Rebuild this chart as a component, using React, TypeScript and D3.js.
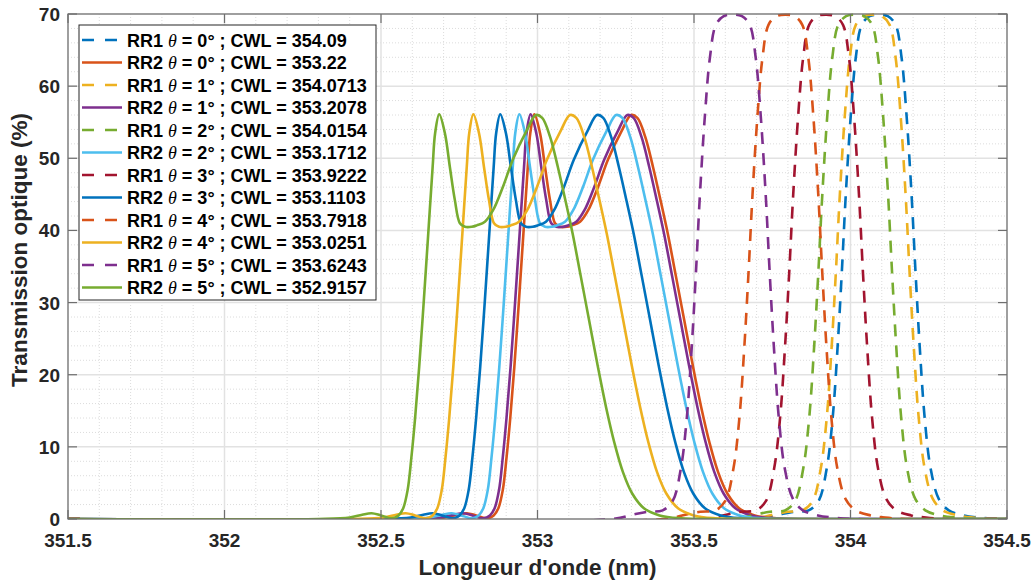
import * as d3 from "d3";

// ---- data ----
const xTicks = [351.5, 352, 352.5, 353, 353.5, 354, 354.5];
const yTicks = [0, 10, 20, 30, 40, 50, 60, 70];

const rrNames = ["RR1", "RR2", "RR1", "RR2", "RR1", "RR2", "RR1", "RR2", "RR1", "RR2", "RR1", "RR2"];
const angles = [0, 0, 1, 1, 2, 2, 3, 3, 4, 4, 5, 5];
const cwlLabels = ["354.09", "353.22", "354.0713", "353.2078", "354.0154", "353.1712", "353.9222", "353.1103", "353.7918", "353.0251", "353.6243", "352.9157"];

// transmission profile of the RR1 (dashed) curves, same shape for every angle
const rr1Trans = [0, 0, 0.6, 1.0, 1.2, 2.5, 7, 14, 24, 34, 45, 56, 64, 68.5, 69.7, 69.9, 69.7, 68.5, 64, 56, 45, 34, 24, 14, 7, 2.8, 1.2, 0.5, 0.2, 0, 0];
// transmission profile of the RR2 (solid) curves
const rr2Trans = [0, 0, 0.2, 0.6, 0.8, 0.5, 0.1, 0.5, 1.5, 4.0, 8.5, 14.0, 21.1, 30.4, 39.6, 48.8, 53.5, 56.1, 53.5, 48.8, 44.2, 41.0, 40.5, 40.5, 40.7, 41.2, 42.8, 46.1, 49.8, 53.8, 56.0, 55.6, 53.0, 48.8, 44.0, 39.6, 33.7, 27.5, 21.3, 15.5, 10.5, 6.5, 3.5, 1.5, 0.5, 0.1, 0, 0];

const wlRR1_0 = [351.5, 353.707, 353.771, 353.818, 353.866, 353.898, 353.924, 353.943, 353.959, 353.972, 353.985, 354.001, 354.017, 354.036, 354.061, 354.090, 354.119, 354.144, 354.163, 354.179, 354.195, 354.208, 354.221, 354.237, 354.256, 354.282, 354.314, 354.362, 354.409, 354.473, 354.5];
const wlRR1_1 = [351.5, 353.688, 353.752, 353.799, 353.847, 353.879, 353.905, 353.924, 353.940, 353.953, 353.966, 353.982, 353.998, 354.017, 354.042, 354.071, 354.100, 354.125, 354.144, 354.160, 354.176, 354.189, 354.202, 354.218, 354.237, 354.263, 354.295, 354.343, 354.390, 354.454, 354.5];
const wlRR1_2 = [351.5, 353.632, 353.696, 353.743, 353.791, 353.823, 353.849, 353.868, 353.884, 353.897, 353.910, 353.926, 353.942, 353.961, 353.986, 354.015, 354.044, 354.069, 354.088, 354.104, 354.120, 354.133, 354.146, 354.162, 354.181, 354.207, 354.239, 354.287, 354.334, 354.398, 354.5];
const wlRR1_3 = [351.5, 353.539, 353.603, 353.650, 353.698, 353.730, 353.756, 353.775, 353.791, 353.804, 353.817, 353.833, 353.849, 353.868, 353.893, 353.922, 353.951, 353.976, 353.995, 354.011, 354.027, 354.040, 354.053, 354.069, 354.088, 354.114, 354.146, 354.194, 354.241, 354.305, 354.5];
const wlRR1_4 = [351.5, 353.409, 353.473, 353.520, 353.568, 353.600, 353.626, 353.645, 353.661, 353.674, 353.687, 353.703, 353.719, 353.738, 353.763, 353.792, 353.821, 353.846, 353.865, 353.881, 353.897, 353.910, 353.923, 353.939, 353.958, 353.984, 354.016, 354.064, 354.111, 354.175, 354.5];
const wlRR1_5 = [351.5, 353.241, 353.305, 353.352, 353.400, 353.432, 353.458, 353.477, 353.493, 353.506, 353.519, 353.535, 353.551, 353.570, 353.595, 353.624, 353.653, 353.678, 353.697, 353.713, 353.729, 353.742, 353.755, 353.771, 353.790, 353.816, 353.848, 353.896, 353.943, 354.007, 354.5];

const wlRR2_0 = [351.5, 352.604, 352.704, 352.744, 352.774, 352.804, 352.839, 352.860, 352.875, 352.889, 352.901, 352.913, 352.926, 352.941, 352.955, 352.969, 352.977, 352.990, 353.008, 353.024, 353.040, 353.056, 353.072, 353.094, 353.110, 353.136, 353.162, 353.194, 353.225, 353.269, 353.299, 353.319, 353.344, 353.369, 353.394, 353.416, 353.442, 353.469, 353.496, 353.523, 353.550, 353.577, 353.607, 353.644, 353.694, 353.764, 353.884, 354.5];
const wlRR2_1 = [351.5, 352.592, 352.692, 352.732, 352.762, 352.792, 352.827, 352.848, 352.863, 352.877, 352.889, 352.901, 352.914, 352.929, 352.943, 352.957, 352.965, 352.978, 352.996, 353.012, 353.028, 353.044, 353.060, 353.082, 353.098, 353.124, 353.150, 353.182, 353.213, 353.257, 353.287, 353.307, 353.332, 353.357, 353.382, 353.404, 353.430, 353.457, 353.484, 353.511, 353.538, 353.565, 353.595, 353.632, 353.682, 353.752, 353.872, 354.5];
const wlRR2_2 = [351.5, 352.556, 352.656, 352.696, 352.726, 352.756, 352.791, 352.812, 352.827, 352.841, 352.853, 352.865, 352.878, 352.893, 352.907, 352.921, 352.929, 352.942, 352.960, 352.976, 352.992, 353.008, 353.024, 353.046, 353.062, 353.088, 353.114, 353.146, 353.177, 353.221, 353.251, 353.271, 353.296, 353.321, 353.346, 353.368, 353.394, 353.421, 353.448, 353.475, 353.502, 353.529, 353.559, 353.596, 353.646, 353.716, 353.836, 354.5];
const wlRR2_3 = [351.5, 352.495, 352.595, 352.635, 352.665, 352.695, 352.730, 352.751, 352.766, 352.780, 352.792, 352.804, 352.817, 352.832, 352.846, 352.860, 352.868, 352.881, 352.899, 352.915, 352.931, 352.947, 352.963, 352.985, 353.001, 353.027, 353.053, 353.085, 353.116, 353.160, 353.190, 353.210, 353.235, 353.260, 353.285, 353.307, 353.333, 353.360, 353.387, 353.414, 353.441, 353.468, 353.498, 353.535, 353.585, 353.655, 353.775, 354.5];
const wlRR2_4 = [351.5, 352.409, 352.509, 352.549, 352.579, 352.609, 352.644, 352.665, 352.680, 352.694, 352.706, 352.718, 352.731, 352.746, 352.760, 352.774, 352.782, 352.795, 352.813, 352.829, 352.845, 352.861, 352.877, 352.899, 352.915, 352.941, 352.967, 352.999, 353.030, 353.074, 353.104, 353.124, 353.149, 353.174, 353.199, 353.221, 353.247, 353.274, 353.301, 353.328, 353.355, 353.382, 353.412, 353.449, 353.499, 353.569, 353.689, 354.5];
const wlRR2_5 = [351.5, 352.300, 352.400, 352.440, 352.470, 352.500, 352.535, 352.556, 352.571, 352.585, 352.597, 352.609, 352.622, 352.637, 352.651, 352.665, 352.673, 352.686, 352.704, 352.720, 352.736, 352.752, 352.768, 352.790, 352.806, 352.832, 352.858, 352.890, 352.921, 352.965, 352.995, 353.015, 353.040, 353.065, 353.090, 353.112, 353.138, 353.165, 353.192, 353.219, 353.246, 353.273, 353.303, 353.340, 353.390, 353.460, 353.580, 354.5];

const colors = ["#0072BD", "#D95319", "#EDB120", "#7E2F8E", "#77AC30", "#4DBEEE", "#A2142F"];

const wavelengths = [wlRR1_0, wlRR2_0, wlRR1_1, wlRR2_1, wlRR1_2, wlRR2_2, wlRR1_3, wlRR2_3, wlRR1_4, wlRR2_4, wlRR1_5, wlRR2_5];

const W = 1035;
const H = 582;
const left = 68, right = 1007, top = 14, bottom = 519;
const font = "'Liberation Sans', Arial, sans-serif";

export default function App() {
  const x = d3.scaleLinear().domain([351.5, 354.5]).range([left, right]);
  const y = d3.scaleLinear().domain([0, 70]).range([bottom, top]);

  const series = wavelengths.map((wl, i) => {
    const dashed = rrNames[i] === "RR1";
    const t = dashed ? rr1Trans : rr2Trans;
    return {
      pts: wl.map((w, j) => [w, t[j]] as [number, number]),
      color: colors[i % colors.length],
      dashed,
      label: { rr: rrNames[i], rest: ` = ${angles[i]}° ; CWL = ${cwlLabels[i]}` },
    };
  });

  const line = d3
    .line<[number, number]>()
    .x((d) => x(d[0]))
    .y((d) => y(Math.max(0, d[1])))
    .curve(d3.curveCatmullRom.alpha(0.5));

  const xMinor = d3.range(351.5, 354.5001, 0.1).filter((v) => Math.abs(v * 2 - Math.round(v * 2)) > 1e-6);
  const yMinor = d3.range(0, 70.001, 2).filter((v) => v % 10 !== 0);

  const dash = "12,9";
  const legX = 79, legY = 25, legW = 297, legH = 275;
  const rowH = 22.5;

  return (
    <svg width={W} height={H} style={{ position: "absolute", left: 0, top: 0, background: "#fff" }}>
      <defs>
        <clipPath id="plotclip">
          <rect x={left} y={top - 2} width={right - left} height={bottom - top + 2} />
        </clipPath>
      </defs>
      <rect x={left} y={top} width={right - left} height={bottom - top} fill="#fff" />
      {/* minor grid */}
      {xMinor.map((v) => (
        <line key={"xm" + v} x1={x(v)} x2={x(v)} y1={top} y2={bottom} stroke="#dcdcdc" strokeWidth={1} strokeDasharray="1,2" />
      ))}
      {yMinor.map((v) => (
        <line key={"ym" + v} x1={left} x2={right} y1={y(v)} y2={y(v)} stroke="#dcdcdc" strokeWidth={1} strokeDasharray="1,2" />
      ))}
      {/* major grid */}
      {xTicks.map((v) => (
        <line key={"xg" + v} x1={x(v)} x2={x(v)} y1={top} y2={bottom} stroke="#e2e2e2" strokeWidth={1.5} />
      ))}
      {yTicks.map((v) => (
        <line key={"yg" + v} x1={left} x2={right} y1={y(v)} y2={y(v)} stroke="#e2e2e2" strokeWidth={1.5} />
      ))}

      <g clipPath="url(#plotclip)">
        {series.map((s, i) => (
          <path
            key={i}
            d={line(s.pts) || ""}
            fill="none"
            stroke={s.color}
            strokeWidth={2.6}
            strokeDasharray={s.dashed ? dash : undefined}
          />
        ))}
      </g>

      {/* axes box and ticks */}
      <rect x={left} y={top} width={right - left} height={bottom - top} fill="none" stroke="#6e6e6e" strokeWidth={1.2} />
      {xTicks.map((v) => (
        <g key={"xt" + v}>
          <line x1={x(v)} x2={x(v)} y1={bottom} y2={bottom - 9} stroke="#6e6e6e" strokeWidth={1.2} />
          <line x1={x(v)} x2={x(v)} y1={top} y2={top + 9} stroke="#6e6e6e" strokeWidth={1.2} />
          <text x={x(v)} y={bottom + 28} textAnchor="middle" fontFamily={font} fontWeight="bold" fontSize={19} fill="#262626">
            {String(v)}
          </text>
        </g>
      ))}
      {yTicks.map((v) => (
        <g key={"yt" + v}>
          <line x1={left} x2={left + 9} y1={y(v)} y2={y(v)} stroke="#6e6e6e" strokeWidth={1.2} />
          <line x1={right} x2={right - 9} y1={y(v)} y2={y(v)} stroke="#6e6e6e" strokeWidth={1.2} />
          <text x={left - 8} y={y(v) + 7} textAnchor="end" fontFamily={font} fontWeight="bold" fontSize={19} fill="#262626">
            {String(v)}
          </text>
        </g>
      ))}

      <text x={(left + right) / 2} y={575} textAnchor="middle" fontFamily={font} fontWeight="bold" fontSize={22.5} fill="#262626">
        Longueur d'onde (nm)
      </text>
      <text
        transform={`translate(27, 250) rotate(-90)`}
        textAnchor="middle"
        fontFamily={font}
        fontWeight="bold"
        fontSize={22.5}
        fill="#262626"
      >
        Transmission optique (%)
      </text>

      {/* legend */}
      <rect x={legX} y={legY} width={legW} height={legH} fill="#fff" stroke="#262626" strokeWidth={1} />
      {series.map((s, i) => {
        const cy = 40 + i * rowH;
        return (
          <g key={"lg" + i}>
            <line x1={82} x2={122} y1={cy} y2={cy} stroke={s.color} strokeWidth={2.6} strokeDasharray={s.dashed ? "12,11" : undefined} />
            <text x={127} y={cy + 6.5} fontFamily={font} fontWeight="bold" fontSize={18} fill="#000" style={{ whiteSpace: "pre" }}>
              {s.label.rr + " "}
              <tspan fontFamily="'Liberation Serif', 'Times New Roman', serif" fontStyle="italic" fontWeight="normal">θ</tspan>
              {s.label.rest}
            </text>
          </g>
        );
      })}
    </svg>
  );
}
